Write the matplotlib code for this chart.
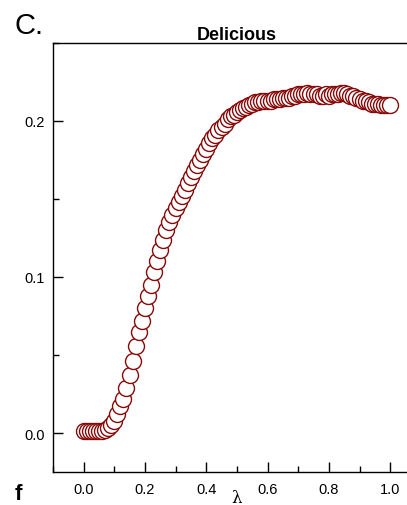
import numpy as np
import matplotlib
matplotlib.use('Agg')
import matplotlib.pyplot as plt
from matplotlib.ticker import MultipleLocator

plt.rcParams['font.family'] = ['Liberation Sans', 'DejaVu Sans']

# lambda values and the measured curve
lam = [i / 100 for i in range(101)]
score = [0.001, 0.001, 0.001, 0.001, 0.001, 0.001, 0.001, 0.002, 0.003, 0.005,
         0.008, 0.012, 0.017, 0.022, 0.029, 0.037, 0.046, 0.056, 0.065, 0.072,
         0.080, 0.088, 0.095, 0.103, 0.110, 0.117, 0.124, 0.130, 0.135, 0.140,
         0.144, 0.148, 0.152, 0.156, 0.160, 0.164, 0.168, 0.172, 0.175, 0.179,
         0.182, 0.186, 0.189, 0.191, 0.194, 0.196, 0.198, 0.201, 0.203, 0.204,
         0.206, 0.207, 0.208, 0.209, 0.210, 0.211, 0.212, 0.212, 0.213, 0.213,
         0.213, 0.213, 0.214, 0.214, 0.214, 0.215, 0.215, 0.215, 0.216, 0.216,
         0.217, 0.217, 0.217, 0.218, 0.217, 0.217, 0.217, 0.216, 0.216, 0.217,
         0.216, 0.217, 0.217, 0.217, 0.218, 0.218, 0.217, 0.216, 0.216, 0.215,
         0.214, 0.213, 0.213, 0.212, 0.211, 0.211, 0.211, 0.210, 0.210, 0.210,
         0.210]
xticks = [0.0, 0.2, 0.4, 0.6, 0.8, 1.0]
yticks = [0.0, 0.1, 0.2]

fig = plt.figure(figsize=(4.07, 5.06), dpi=100)
# axes runs past the right edge on purpose (panel is cropped there)
ax = fig.add_axes([0.130, 0.0652, 0.904, 0.848])

ax.plot(lam, score, 'o', markersize=11.5, markerfacecolor='white',
        markeredgecolor='#880808', markeredgewidth=1.0, linestyle='none')

ax.set_xlim(-0.1, 1.1)
ax.set_ylim(-0.025, 0.25)
ax.set_xticks(xticks)
ax.set_yticks(yticks)
ax.set_xticklabels(['%.1f' % t for t in xticks])
ax.set_yticklabels(['%.1f' % t for t in yticks])
ax.xaxis.set_minor_locator(MultipleLocator(0.1))
ax.yaxis.set_minor_locator(MultipleLocator(0.05))
ax.tick_params(which='major', direction='in', length=7, width=1, labelsize=10.5)
ax.tick_params(which='minor', direction='in', length=4, width=1)
ax.tick_params(axis='x', pad=7)
ax.tick_params(axis='y', pad=6)
for s in ax.spines.values():
    s.set_linewidth(1)

ax.set_title('Delicious', fontsize=13, fontweight='bold', pad=3)
ax.set_xlabel('λ', fontsize=12, family=['DejaVu Serif'], labelpad=-5)

fig.text(0.035, 0.932, 'C.', fontsize=21)
fig.text(0.035, 0.012, 'f', fontsize=16, fontweight='bold')

fig.savefig('out.png', dpi=100)
